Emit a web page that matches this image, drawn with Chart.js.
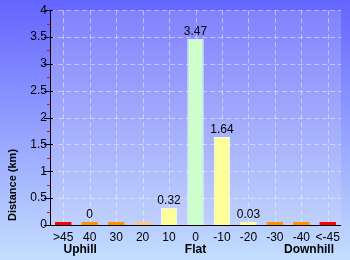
<!DOCTYPE html>
<html lang="en">
<head>
  <meta charset="UTF-8" />
  <title>Gradient distance chart</title>
  <script src="https://cdn.jsdelivr.net/npm/chart.js"></script>
  <style>
    body { margin: 0; background: #8fa0ff; }
    #wrap { width: 350px; height: 260px; }
  </style>
</head>
<body>
  <div id="wrap"><canvas id="gradChart" width="350" height="260"></canvas></div>
  <script>
    // data
    const categories = ['>45', '40', '30', '20', '10', '0', '-10', '-20', '-30', '-40', '<-45'];
    const distances = [0, 0, 0, 0, 0.32, 3.47, 1.64, 0.03, 0, 0, 0];
    const valueLabels = ['', '0', '', '', '0.32', '3.47', '1.64', '0.03', '', '', ''];
    const yTicks = [0, 0.5, 1, 1.5, 2, 2.5, 3, 3.5, 4];
    const groups = [
      { text: 'Uphill', at: 0.64 },
      { text: 'Flat', at: 5 },
      { text: 'Downhill', at: 9.29 }
    ];

    const barColors = ['#ff0000', '#ff9000', '#ff9000', '#ffc880', '#ffff99', '#ccffcc',
                       '#ffff99', '#ffffb0', '#ff9000', '#ff9000', '#ff0000'];
    const FONT = 'Arial, "Liberation Sans", sans-serif';
    const GRID = 'rgba(255,255,255,0.45)';

    const decor = {
      id: 'decor',
      beforeDraw(chart) {
        const { ctx, chartArea: a } = chart;
        const g = ctx.createLinearGradient(0, 0, 0, chart.height);
        g.addColorStop(0, '#6464ff');
        g.addColorStop(1, '#c4deff');
        ctx.save();
        ctx.fillStyle = g;
        ctx.fillRect(0, 0, chart.width, chart.height);
        ctx.fillStyle = 'rgba(225,225,240,0.22)';
        ctx.fillRect(a.left, a.top, a.right - a.left, a.bottom - a.top);
        ctx.restore();
      },
      beforeDatasetsDraw(chart) {
        const { ctx, chartArea: a, scales } = chart;
        const x = scales.x, y = scales.y;
        ctx.save();
        ctx.lineWidth = 1;
        // dashed grid
        ctx.strokeStyle = GRID;
        ctx.setLineDash([5, 3]);
        ctx.beginPath();
        yTicks.forEach(v => {
          if (v === 0) return;
          const py = Math.round(y.getPixelForValue(v)) + 0.5;
          ctx.moveTo(a.left, py);
          ctx.lineTo(a.right, py);
        });
        categories.forEach((c, i) => {
          const px = Math.round(x.getPixelForValue(i)) + 0.5;
          ctx.moveTo(px, a.top);
          ctx.lineTo(px, a.bottom);
        });
        ctx.stroke();
        ctx.setLineDash([]);
        // y tick marks: black majors, red minors
        for (let v = 0; v <= 4.001; v += 0.25) {
          const py = Math.round(y.getPixelForValue(v)) + 0.5;
          const major = Math.abs(v * 2 - Math.round(v * 2)) < 0.01;
          ctx.strokeStyle = major ? '#000' : '#ff0000';
          ctx.beginPath();
          ctx.moveTo(major ? 44 : 47, py);
          ctx.lineTo(major ? 53 : 50, py);
          ctx.stroke();
        }
        // axis lines
        ctx.strokeStyle = '#000';
        ctx.beginPath();
        ctx.moveTo(Math.round(a.left) + 0.5, a.top);
        ctx.lineTo(Math.round(a.left) + 0.5, a.bottom);
        ctx.moveTo(a.left, Math.round(a.bottom) + 0.5);
        ctx.lineTo(a.right, Math.round(a.bottom) + 0.5);
        ctx.stroke();
        ctx.restore();
      },
      afterDraw(chart) {
        const { ctx, scales } = chart;
        const x = scales.x;
        ctx.save();
        // value labels above bars
        const meta = chart.getDatasetMeta(0);
        ctx.fillStyle = '#000';
        ctx.font = '12px ' + FONT;
        ctx.textAlign = 'center';
        ctx.textBaseline = 'bottom';
        meta.data.forEach((bar, i) => {
          if (valueLabels[i]) ctx.fillText(valueLabels[i], bar.x, bar.y - 1);
        });
        // group labels
        ctx.font = 'bold 12px ' + FONT;
        ctx.textBaseline = 'middle';
        groups.forEach(gr => ctx.fillText(gr.text, x.getPixelForValue(gr.at), 250));
        // y title
        ctx.font = 'bold 11px ' + FONT;
        ctx.translate(13, 185);
        ctx.rotate(-Math.PI / 2);
        ctx.fillText('Distance (km)', 0, 0);
        ctx.restore();
      }
    };

    const ctx = document.getElementById('gradChart').getContext('2d');
    new Chart(ctx, {
      type: 'bar',
      data: {
        labels: categories,
        datasets: [{
          data: distances,
          backgroundColor: barColors,
          borderColor: 'rgba(255,255,255,0.9)',
          borderWidth: c => (c.raw > 0.1 ? 1 : 0),
          borderSkipped: 'bottom',
          minBarLength: 3,
          categoryPercentage: 1,
          barPercentage: 0.62
        }]
      },
      options: {
        responsive: false,
        animation: false,
        events: [],
        layout: { padding: { top: 10, right: 9, left: 0, bottom: 0 } },
        plugins: { legend: { display: false }, tooltip: { enabled: false } },
        scales: {
          x: {
            afterFit: s => { s.height = 35; },
            grid: { display: false, drawTicks: false },
            border: { display: false },
            ticks: { color: '#000', font: { family: FONT, size: 12 }, padding: 5, maxRotation: 0, autoSkip: false }
          },
          y: {
            min: 0,
            max: 4,
            afterFit: s => { s.width = 50; },
            afterBuildTicks: s => { s.ticks = yTicks.map(v => ({ value: v })); },
            grid: { display: false, drawTicks: false },
            border: { display: false },
            ticks: { color: '#000', font: { family: FONT, size: 12 }, padding: 3, callback: v => String(v) }
          }
        }
      },
      plugins: [decor]
    });
  </script>
</body>
</html>
